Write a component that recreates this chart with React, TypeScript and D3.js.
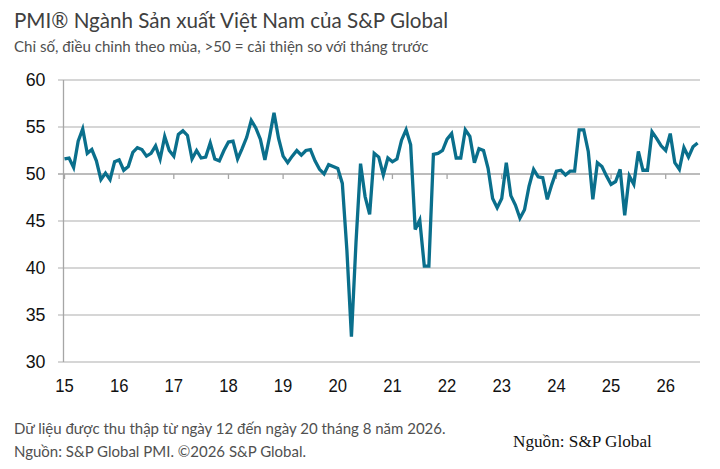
import React, { useEffect, useRef } from "react";
import * as d3 from "d3";

// monthly PMI readings, Jan 2015 .. Aug 2026
const years = [15, 16, 17, 18, 19, 20, 21, 22, 23, 24, 25, 26];
const pmi2015 = [51.6, 51.7, 50.7, 53.5, 54.8, 52.2, 52.6, 51.4, 49.4, 50.1, 49.4, 51.3];
const pmi2016 = [51.5, 50.4, 50.8, 52.3, 52.8, 52.6, 51.9, 52.2, 53.0, 51.6, 54.0, 52.5];
const pmi2017 = [51.9, 54.2, 54.6, 54.1, 51.6, 52.5, 51.7, 51.8, 53.3, 51.6, 51.4, 52.5];
const pmi2018 = [53.4, 53.5, 51.6, 52.7, 53.9, 55.7, 54.9, 53.7, 51.5, 53.9, 56.5, 53.8];
const pmi2019 = [51.9, 51.2, 51.9, 52.5, 52.0, 52.5, 52.6, 51.4, 50.5, 50.0, 51.0, 50.8];
const pmi2020 = [50.6, 49.0, 41.9, 32.7, 42.7, 51.1, 47.6, 45.7, 52.2, 51.8, 49.9, 51.7];
const pmi2021 = [51.3, 51.6, 53.6, 54.7, 53.1, 44.1, 45.1, 40.2, 40.2, 52.1, 52.2, 52.5];
const pmi2022 = [53.7, 54.3, 51.7, 51.7, 54.7, 54.0, 51.2, 52.7, 52.5, 50.6, 47.4, 46.4];
const pmi2023 = [47.4, 51.2, 47.7, 46.7, 45.3, 46.2, 48.7, 50.5, 49.7, 49.6, 47.3, 48.9];
const pmi2024 = [50.3, 50.4, 49.9, 50.3, 50.3, 54.7, 54.7, 52.4, 47.3, 51.2, 50.8, 49.8];
const pmi2025 = [48.9, 49.2, 50.5, 45.6, 49.8, 48.9, 52.4, 50.4, 50.4, 54.5, 53.8, 53.0];
const pmi2026 = [52.5, 54.3, 51.2, 50.5, 52.8, 51.8, 52.9, 53.3];

const yTicks = [30, 35, 40, 45, 50, 55, 60];

const pmi = [
  ...pmi2015, ...pmi2016, ...pmi2017, ...pmi2018, ...pmi2019, ...pmi2020,
  ...pmi2021, ...pmi2022, ...pmi2023, ...pmi2024, ...pmi2025, ...pmi2026,
];

const App: React.FC = () => {
  const svgRef = useRef<SVGSVGElement | null>(null);

  useEffect(() => {
    const width = 720;
    const height = 469;
    const plotLeft = 63.5;
    const plotRight = 700;

    const svg = d3.select(svgRef.current);
    svg.selectAll("*").remove();
    svg.attr("viewBox", [0, 0, width, height]);

    svg.append("rect").attr("width", width).attr("height", height).attr("fill", "#fff");

    const x = d3.scaleLinear().domain([0, 132]).range([64.5, 665.7]);
    const y = d3.scaleLinear().domain([30, 60]).range([362, 80]);

    const sans = "'Liberation Sans', Arial, sans-serif";
    const humanist = "Lato, 'Open Sans', sans-serif";

    // title + subtitle
    svg
      .append("text")
      .attr("x", 14)
      .attr("y", 28)
      .attr("font-family", humanist)
      .attr("font-size", 20.6)
      .attr("fill", "#404040")
      .text("PMI® Ngành Sản xuất Việt Nam của S&P Global");
    svg
      .append("text")
      .attr("x", 14)
      .attr("y", 52)
      .attr("font-family", humanist)
      .attr("font-size", 15.1)
      .attr("fill", "#505050")
      .text("Chỉ số, điều chỉnh theo mùa, >50 = cải thiện so với tháng trước");

    // gridlines
    svg
      .append("g")
      .selectAll("line")
      .data(yTicks)
      .enter()
      .append("line")
      .attr("x1", plotLeft - 5.5)
      .attr("x2", plotRight)
      .attr("y1", (d) => y(d))
      .attr("y2", (d) => y(d))
      .attr("stroke", (d) => (d === 50 ? "#a6a6a6" : "#c9c9c9"))
      .attr("stroke-width", 1.3);

    // y axis line
    svg
      .append("line")
      .attr("x1", plotLeft)
      .attr("x2", plotLeft)
      .attr("y1", y(60))
      .attr("y2", y(30))
      .attr("stroke", "#a6a6a6")
      .attr("stroke-width", 1.3);

    // y labels
    svg
      .append("g")
      .selectAll("text")
      .data(yTicks)
      .enter()
      .append("text")
      .attr("x", 45.5)
      .attr("y", (d) => y(d) + 6.4)
      .attr("text-anchor", "end")
      .attr("font-family", sans)
      .attr("font-size", 17.8)
      .attr("fill", "#111")
      .text((d) => d);

    // year ticks on the 50 line
    const yearIdx = years.map((_, i) => i * 12);
    svg
      .append("g")
      .selectAll("line")
      .data(yearIdx)
      .enter()
      .append("line")
      .attr("x1", (d) => x(d))
      .attr("x2", (d) => x(d))
      .attr("y1", y(50))
      .attr("y2", y(50) + 5)
      .attr("stroke", "#a6a6a6")
      .attr("stroke-width", 1.3);

    // year labels
    svg
      .append("g")
      .selectAll("text")
      .data(years)
      .enter()
      .append("text")
      .attr("x", (_, i) => x(i * 12))
      .attr("y", 392.5)
      .attr("text-anchor", "middle")
      .attr("font-family", sans)
      .attr("font-size", 18.5)
      .attr("fill", "#111")
      .attr("transform", (_, i) => `translate(${x(i * 12)},0) scale(0.9,1) translate(${-x(i * 12)},0)`)
      .text((d) => d);

    // the PMI line
    const line = d3
      .line<number>()
      .x((_, i) => x(i))
      .y((d) => y(d));
    svg
      .append("path")
      .datum(pmi)
      .attr("d", line)
      .attr("fill", "none")
      .attr("stroke", "#0a6f8c")
      .attr("stroke-width", 3.3)
      .attr("stroke-linejoin", "miter");

    // footnotes
    svg
      .append("text")
      .attr("x", 14)
      .attr("y", 434)
      .attr("font-family", humanist)
      .attr("font-size", 15)
      .attr("fill", "#505050")
      .text("Dữ liệu được thu thập từ ngày 12 đến ngày 20 tháng 8 năm 2026.");
    svg
      .append("text")
      .attr("x", 14)
      .attr("y", 457)
      .attr("font-family", humanist)
      .attr("font-size", 15)
      .attr("fill", "#505050")
      .text("Nguồn: S&P Global PMI. ©2026 S&P Global.");
    svg
      .append("text")
      .attr("x", 513)
      .attr("y", 447)
      .attr("font-family", "'Liberation Serif', 'Times New Roman', serif")
      .attr("font-size", 17.2)
      .attr("fill", "#111")
      .text("Nguồn: S&P Global");
  }, []);

  return (
    <div style={{ position: "absolute", left: 0, top: 0, width: 720, height: 469 }}>
      <svg ref={svgRef} width={720} height={469} style={{ display: "block" }}></svg>
    </div>
  );
};

export default App;
